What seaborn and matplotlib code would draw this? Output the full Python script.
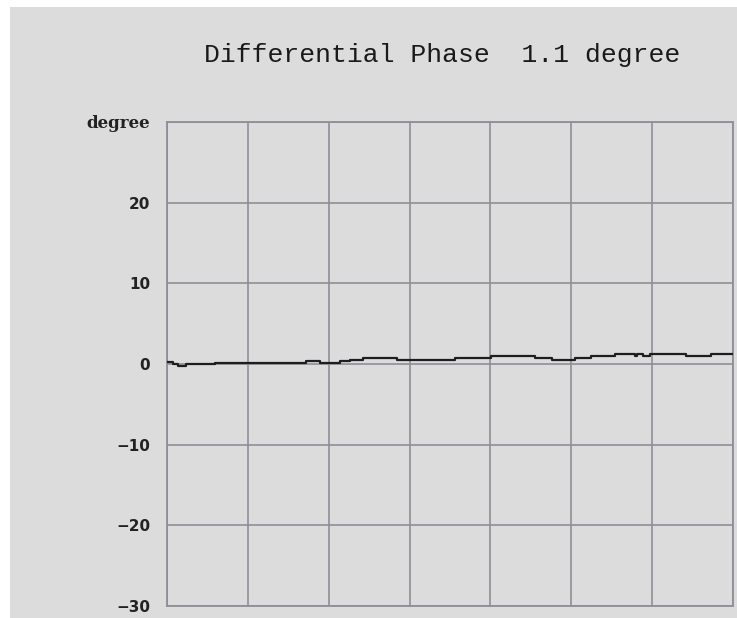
import matplotlib
matplotlib.use("Agg")
import matplotlib.pyplot as plt
from matplotlib.patches import Rectangle
import numpy as np
import pandas as pd
import seaborn as sns

# Phase trace breakpoints (sample position, degrees)
sample_pos = [0, 7, 14, 23, 59, 172, 189, 214, 226, 242, 284, 356, 401, 455,
              476, 505, 524, 554, 579, 581, 589, 597, 642, 673, 700]
phase_deg = [0.2, 0.0, -0.25, 0.0, 0.12, 0.37, 0.12, 0.33, 0.53, 0.75, 0.53,
             0.75, 1.04, 0.75, 0.53, 0.75, 1.04, 1.2, 0.95, 1.2, 0.95, 1.2,
             0.95, 1.2, 1.2]
y_ticks = [-30, -20, -10, 0, 10, 20, 30]
y_tick_labels = ["\u221230", "\u221220", "\u221210", "0", "10", "20", "degree"]
x_grid = [0, 100, 200, 300, 400, 500, 600, 700]
title_text = "Differential Phase  1.1 degree"

sns.set_theme(style="white")
bg = "#dcdcdc"
grid_c = "#8e8e98"

fig = plt.figure(figsize=(7.37, 6.18), dpi=100)
fig.patch.set_facecolor("white")
fig.patches.append(Rectangle((10 / 737, 0), 1, 1 - 7 / 618,
                             transform=fig.transFigure, facecolor=bg,
                             edgecolor="none", zorder=-5))

ax = fig.add_axes([167 / 737, 1 - 606 / 618, 566 / 737, 484 / 618])
ax.set_zorder(2)
ax.set_facecolor(bg)

df = pd.DataFrame({"x": sample_pos, "y": phase_deg})
sns.lineplot(data=df, x="x", y="y", ax=ax, color="#1e1e1e", linewidth=1.6,
             drawstyle="steps-post", zorder=3)

ax.set_xlim(0, 700)
ax.set_ylim(-30, 30)
ax.set_xticks(x_grid)
ax.set_xticklabels([])
ax.set_yticks(y_ticks)
ax.set_yticklabels(y_tick_labels)
ax.tick_params(axis="both", length=0)
ax.tick_params(axis="y", pad=12)
ax.set_xlabel("")
ax.set_ylabel("")
ax.grid(True, color=grid_c, linewidth=1.2, zorder=1)
ax.set_axisbelow(True)
for s in ax.spines.values():
    s.set_color(grid_c)
    s.set_linewidth(1.3)
    s.set_visible(True)

for lbl in ax.get_yticklabels():
    if lbl.get_text() == "degree":
        lbl.set_fontfamily("DejaVu Serif")
        lbl.set_fontweight("bold")
        lbl.set_fontsize(12)
    else:
        lbl.set_fontfamily("DejaVu Sans")
        lbl.set_fontweight("bold")
        lbl.set_fontsize(11)
    lbl.set_color("#222222")

fig.text(442 / 737, 1 - 55 / 618, title_text, ha="center", va="center",
         fontfamily="Liberation Mono", fontsize=19, color="#1a1a1a", zorder=3)

fig.savefig("out.png", dpi=100, facecolor=fig.get_facecolor())
